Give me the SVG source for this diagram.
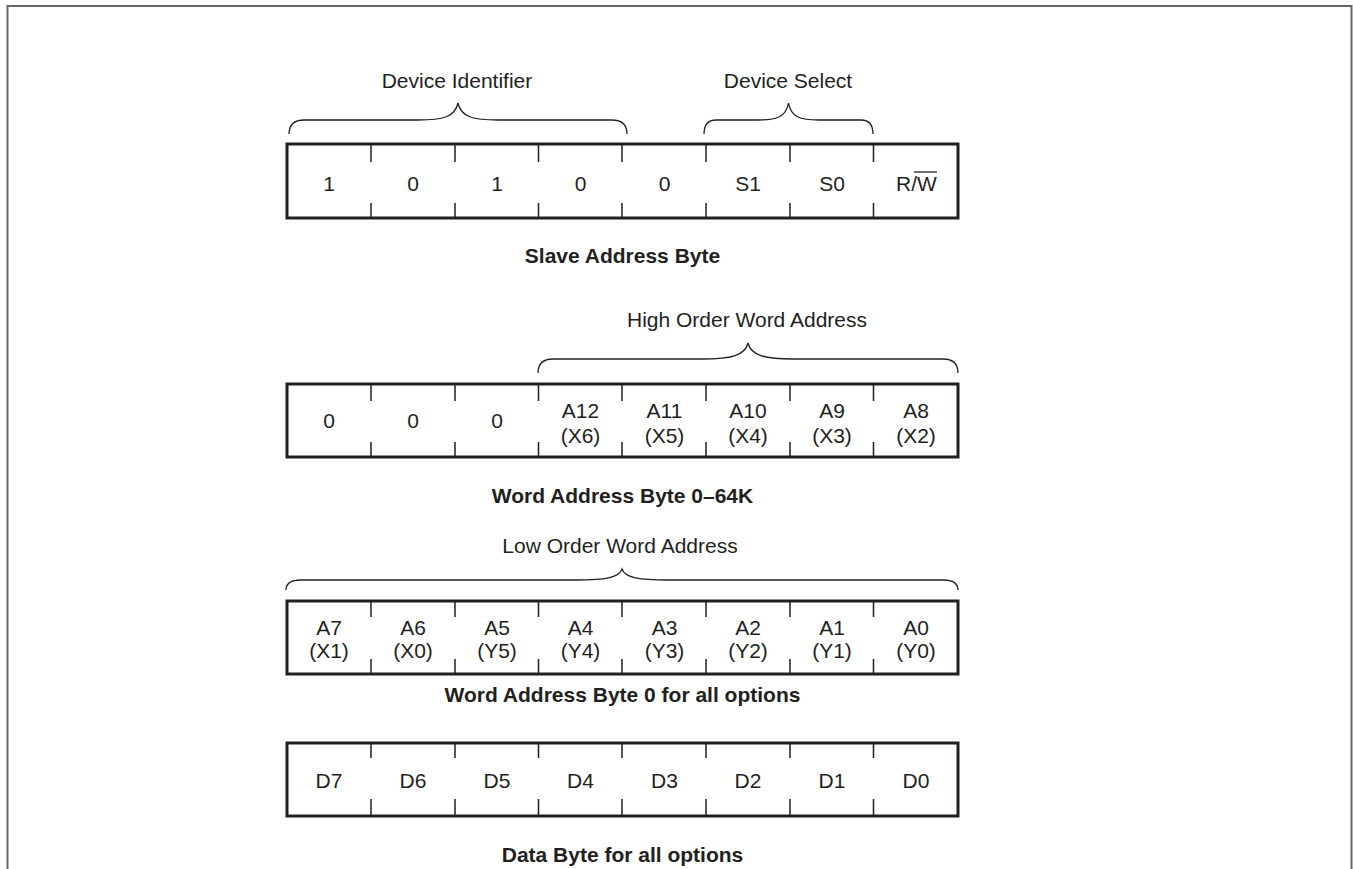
<svg xmlns="http://www.w3.org/2000/svg" width="1353" height="869" viewBox="0 0 1353 869">
<style>
text{font-family:"Liberation Sans",Arial,Helvetica,sans-serif;font-size:21px;fill:#231f20;text-anchor:middle}
.cap{font-weight:bold}
.box{fill:#fff;stroke:#231f20;stroke-width:3}
.tick{stroke:#231f20;stroke-width:1.5;fill:none}
.brace{stroke:#231f20;stroke-width:1.3;fill:none}
.frame{stroke:#666;stroke-width:2;fill:none}
</style>
<rect width="1353" height="869" fill="#fff"/>
<path class="frame" d="M7.5,869 V6 H1351.5 V869"/>

<g id="slave-address-byte">
<rect class="box" x="287" y="144" width="671" height="74"/>
<path class="tick" d="M371,144v18M455,144v18M538.5,144v18M622,144v18M706,144v18M790,144v18M873.5,144v18M371,203v15M455,203v15M538.5,203v15M622,203v15M706,203v15M790,203v15M873.5,203v15"/>
<text x="329" y="191">1</text>
<text x="413" y="191">0</text>
<text x="497" y="191">1</text>
<text x="580.5" y="191">0</text>
<text x="664.5" y="191">0</text>
<text x="748" y="191">S1</text>
<text x="832" y="191">S0</text>
<text x="916.5" y="191">R/W</text>
<line x1="914" y1="172" x2="937" y2="172" stroke="#231f20" stroke-width="1.3"/>
</g>
<text class="cap" x="622.5" y="263">Slave Address Byte</text>

<g id="device-identifier">
<path class="brace" d="M289,134 Q289,120 304,120 L418,120 C443,120 455,117 458,103 C461,117 473,120 498,120 L612,120 Q627,120 627,134"/>
<text x="457" y="88">Device Identifier</text>
</g>
<g id="device-select">
<path class="brace" d="M704,134 Q704,120 716,120 L758,120 C777,120 786,117 788.5,103 C791,117 800,120 819,120 L861,120 Q873,120 873,134"/>
<text x="788" y="88">Device Select</text>
</g>

<g id="word-address-byte-64k">
<rect class="box" x="287" y="384" width="671" height="73"/>
<path class="tick" d="M371,384v17M455,384v17M538.5,384v17M622,384v17M706,384v17M790,384v17M873.5,384v17M371,442v15M455,442v15M538.5,442v15M622,442v15M706,442v15M790,442v15M873.5,442v15"/>
<text x="329" y="428">0</text>
<text x="413" y="428">0</text>
<text x="497" y="428">0</text>
<text x="580.5" y="418">A12</text><text x="580.5" y="443">(X6)</text>
<text x="664.5" y="418">A11</text><text x="664.5" y="443">(X5)</text>
<text x="748" y="418">A10</text><text x="748" y="443">(X4)</text>
<text x="832" y="418">A9</text><text x="832" y="443">(X3)</text>
<text x="916" y="418">A8</text><text x="916" y="443">(X2)</text>
</g>
<g id="high-order-word-address">
<path class="brace" d="M538,373 Q538,359 553,359 L703,359 C730,359 745,356 748,343 C751,356 766,359 793,359 L943,359 Q958,359 958,373"/>
<text x="747" y="327">High Order Word Address</text>
</g>
<text class="cap" x="622.5" y="503">Word Address Byte 0–64K</text>

<g id="low-order-word-address">
<path class="brace" d="M286,590 Q286,580 301,580 L577,580 C604,580 619,578 622,569 C625,578 640,580 667,580 L943,580 Q958,580 958,590"/>
<text x="620" y="553">Low Order Word Address</text>
</g>
<g id="word-address-byte-0">
<rect class="box" x="287" y="601" width="671" height="73"/>
<path class="tick" d="M371,601v16M455,601v16M538.5,601v16M622,601v16M706,601v16M790,601v16M873.5,601v16M371,659v15M455,659v15M538.5,659v15M622,659v15M706,659v15M790,659v15M873.5,659v15"/>
<text x="329" y="635">A7</text><text x="329" y="658">(X1)</text>
<text x="413" y="635">A6</text><text x="413" y="658">(X0)</text>
<text x="497" y="635">A5</text><text x="497" y="658">(Y5)</text>
<text x="580.5" y="635">A4</text><text x="580.5" y="658">(Y4)</text>
<text x="664.5" y="635">A3</text><text x="664.5" y="658">(Y3)</text>
<text x="748" y="635">A2</text><text x="748" y="658">(Y2)</text>
<text x="832" y="635">A1</text><text x="832" y="658">(Y1)</text>
<text x="916" y="635">A0</text><text x="916" y="658">(Y0)</text>
</g>
<text class="cap" x="622.5" y="702">Word Address Byte 0 for all options</text>

<g id="data-byte">
<rect class="box" x="287" y="743" width="671" height="73"/>
<path class="tick" d="M371,743v15M455,743v15M538.5,743v15M622,743v15M706,743v15M790,743v15M873.5,743v15M371,799v17M455,799v17M538.5,799v17M622,799v17M706,799v17M790,799v17M873.5,799v17"/>
<text x="329" y="788">D7</text>
<text x="413" y="788">D6</text>
<text x="497" y="788">D5</text>
<text x="580.5" y="788">D4</text>
<text x="664.5" y="788">D3</text>
<text x="748" y="788">D2</text>
<text x="832" y="788">D1</text>
<text x="916" y="788">D0</text>
</g>
<text class="cap" x="622.5" y="862">Data Byte for all options</text>
</svg>
